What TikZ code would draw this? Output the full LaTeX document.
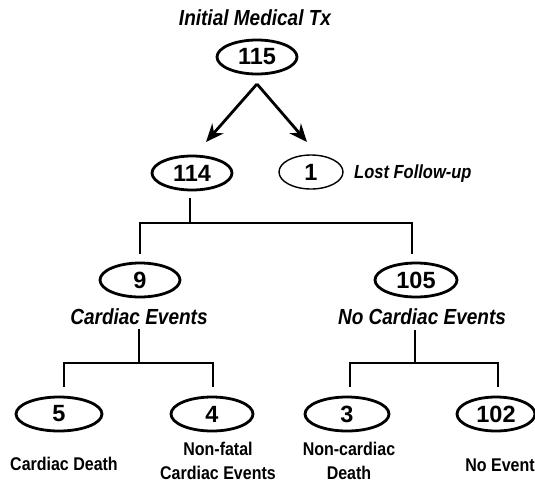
\documentclass[tikz,border=0pt]{standalone}
\usepackage{fontspec}
\setmainfont{Liberation Sans}
\usetikzlibrary{shapes.geometric,arrows.meta}
\newcommand{\tallt}[1]{\scalebox{1}[1.15]{#1}}
\tikzset{
  cnt/.style={draw,ellipse,line width=2.8pt,inner sep=0pt,minimum width=80pt,minimum height=34pt,
    font=\fontsize{23.5}{23.5}\selectfont\bfseries},
  cntthin/.style={cnt,line width=1.4pt},
  toplab/.style={font=\fontsize{19}{19}\selectfont\bfseries\itshape,inner sep=2pt},
  sidelab/.style={font=\fontsize{16.5}{16.5}\selectfont\bfseries\itshape,inner sep=0pt},
  botlab/.style={font=\fontsize{16}{24}\selectfont\bfseries,align=center,inner sep=0pt},
  tree/.style={line width=1.3pt},
  arr/.style={line width=2.8pt,-{Stealth[length=18pt,width=15pt]}}
}
\begin{document}
\begin{tikzpicture}[x=1pt,y=-1pt]
\useasboundingbox (0,0) rectangle (535,483);
% title and root
\node[toplab] (title) at (255,18) {\tallt{Initial Medical Tx}};
\node[cnt] (n115) at (257,57) {115};
% second level
\node[cnt] (n114) at (192,173) {114};
\node[cntthin,minimum width=64pt] (n1) at (311,172) {1};
\node[sidelab,anchor=west] (lost) at (354,174) {\tallt{Lost Follow-up}};
% arrows
\coordinate (apex) at (257,84);
\coordinate (tipL) at (206,142);
\coordinate (tipR) at (307,142);
\draw[arr] (apex) -- (tipL);
\draw[arr] (apex) -- (tipR);
% third level
\node[cnt] (n9) at (140,280) {9};
\node[toplab] (lab9) at (139,317) {\tallt{Cardiac Events}};
\node[cnt,minimum width=82pt] (n105) at (416,280) {105};
\node[toplab] (lab105) at (422,317) {\tallt{No Cardiac Events}};
% tree 1
\coordinate (b1) at (190,223);
\draw[tree] ([yshift=-7pt]n114.south -| b1) -- (b1);
\draw[tree] ([yshift=8pt]n9.north) |- (b1) -| ([xshift=-4pt,yshift=8pt]n105.north);
% fourth level
\node[cnt,minimum width=86pt] (n5) at (59,414) {5};
\node[cnt,minimum width=82pt] (n4) at (212,414) {4};
\node[cnt,minimum width=84pt] (n3) at (347,414) {3};
\node[cnt,minimum width=78pt] (n102) at (496,414) {102};
\node[botlab] (l5) at (64,464) {\tallt{Cardiac Death}};
\node[botlab] (l4) at (218,461) {\tallt{Non-fatal}\\\tallt{Cardiac Events}};
\node[botlab] (l3) at (349,461) {\tallt{Non-cardiac}\\\tallt{Death}};
\node[botlab] (l102) at (500,465) {\tallt{No Event}};
% tree 2
\coordinate (b2) at (139,363);
\draw[tree] (b2 |- 0,329) -- (b2);
\draw[tree] ([xshift=5pt,yshift=9pt]n5.north) |- (b2) -| ([xshift=1pt,yshift=9pt]n4.north);
% tree 3
\coordinate (b3) at (415,363);
\draw[tree] (b3 |- 0,330) -- (b3);
\draw[tree] ([xshift=3pt,yshift=9pt]n3.north) |- (b3) -| ([xshift=2pt,yshift=9pt]n102.north);
\end{tikzpicture}
\end{document}
